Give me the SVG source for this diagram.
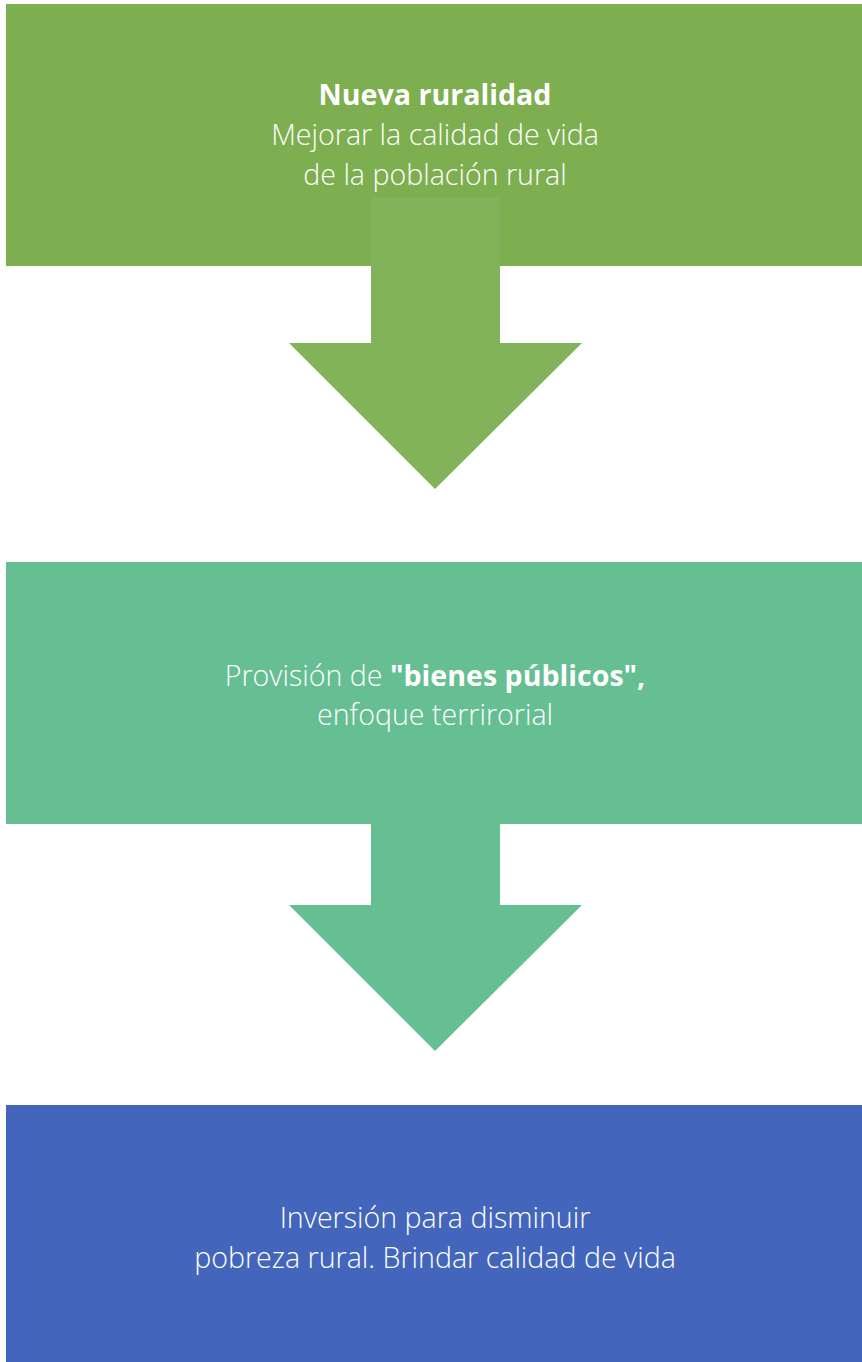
<svg xmlns="http://www.w3.org/2000/svg" width="862" height="1362" viewBox="0 0 862 1362">
<style>
.t{font-family:"Open Sans","Noto Sans","Liberation Sans",sans-serif;font-weight:300;font-size:28.6px;fill:#ffffff;text-anchor:middle}
.b{font-weight:700}
</style>
<rect width="862" height="1362" fill="#ffffff"/>
<g id="node1">
<rect x="6" y="4" width="856" height="262" fill="#7DAE4F"/>
<text class="t" x="435" y="105"><tspan class="b">Nueva ruralidad</tspan></text>
<text class="t" x="435" y="145">Mejorar la calidad de vida</text>
<text class="t" x="435" y="185">de la población rural</text>
</g>
<g id="node2">
<rect x="6" y="562" width="856" height="262" fill="#66BE93"/>
<text class="t" x="435" y="686">Provisión de <tspan class="b">"bienes públicos",</tspan></text>
<text class="t" x="435" y="725">enfoque terrirorial</text>
</g>
<g id="node3">
<rect x="6" y="1105" width="856" height="257" fill="#4366BC"/>
<text class="t" x="435" y="1228">Inversión para disminuir</text>
<text class="t" x="435" y="1268">pobreza rural. Brindar calidad de vida</text>
</g>
<g id="connectors">
<polygon points="371,197 500,197 500,343 582,343 435,489 289,343 371,343" fill="#82B25A"/>
<polygon points="371,823 500,823 500,905 582,905 435,1051 289,905 371,905" fill="#66BE93"/>
</g>
</svg>
